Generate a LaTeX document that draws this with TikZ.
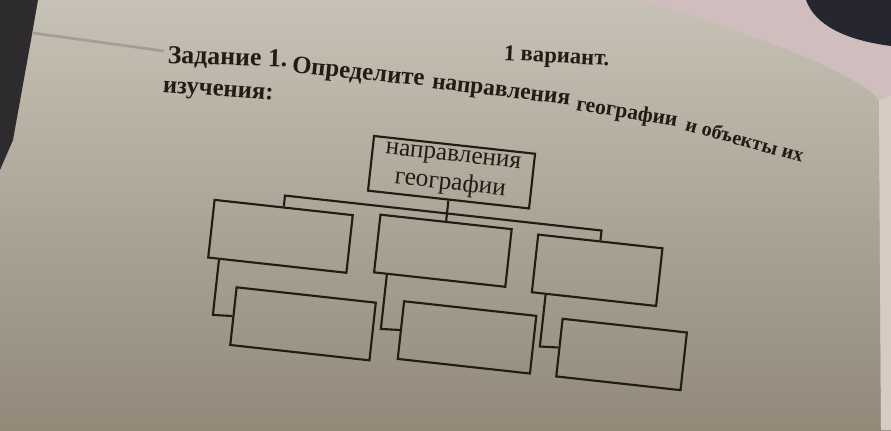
\documentclass[tikz,border=0pt]{standalone}
\usepackage{fontspec}
\setmainfont{Liberation Serif}

\definecolor{ink}{RGB}{34,27,22}
\definecolor{paperTop}{RGB}{198,194,181}
\definecolor{paperBot}{RGB}{146,137,121}
\definecolor{fabric}{RGB}{208,190,190}
\definecolor{fabricLight}{RGB}{214,204,196}
\definecolor{fabricDark}{RGB}{38,38,48}
\definecolor{deskDark}{RGB}{46,43,47}
\definecolor{crease}{RGB}{110,104,96}

\tikzset{every picture/.style={line width=0.75pt}}
\tikzset{
  emptybox/.style={draw=ink, line width=1.6pt, inner sep=0pt, minimum height=43.5pt, rotate=-6.3},
  headbox/.style={draw=ink, line width=1.6pt, inner sep=0pt, minimum width=121.5pt, minimum height=41.25pt,
    align=center, text=ink, font=\fontsize{19}{21.5}\selectfont, rotate=-6.3},
  tierline/.style={draw=ink, line width=1.6pt},
  printed/.style={anchor=base west, inner sep=0pt, text=ink, font=\bfseries\fontsize{#1}{20}\selectfont},
}

\begin{document}
\begin{tikzpicture}[x=0.75pt,y=0.75pt,yscale=-1,xscale=1]
\useasboundingbox (0,0) rectangle (891,430);

%Shape: Paper
\shade[top color=paperTop, bottom color=paperBot] (0,0) rectangle (891,430);
%Straight Lines [crease]
\draw[crease, opacity=0.35, line width=2pt] (33,33) -- (164,51);
%Shape: Desk at left
\fill[deskDark] (0,0) -- (38,0) -- (31,40) -- (13,140) -- (0,170) -- cycle;
%Shape: Fabric at right
\fill[fabric] (640,0) -- (891,0) -- (891,430) -- (881,430) -- (879,100) -- (873,93) .. controls (820,55) and (720,25) .. (640,0) -- cycle;
\fill[fabricLight] (879,100) -- (891,96) -- (891,430) -- (881,430) -- cycle;
\fill[fabricDark] (806,0) .. controls (815,25) and (845,40) .. (891,46) -- (891,0) -- cycle;

% Text Node
\node[printed=17, rotate=-3] (variant) at (503,60) {1 вариант.};
% Text Node
\node[printed=19.4, rotate=-2] (task) at (167,63) {Задание 1.};
\node[printed=18.6, rotate=-6] (define) at (291,72) {Определите};
\node[printed=17.6, rotate=-7] (branches) at (431,88) {направления};
\node[printed=16.2, rotate=-9.4] (geo) at (575,110) {географии};
\node[printed=15.2, rotate=-15.5] (objects) at (684,130) {и объекты их};
% Text Node
\node[printed=18.5, rotate=-4] (study) at (162,92) {изучения:};

\begin{scope}[rotate around={6.3:(450,250)}]
% Text Node
\node[headbox] (head) at (443,172.5) {направления\\географии};
%Shape: Rectangle
\node[emptybox, minimum width=104.25pt] (b1) at (280,255) {};
\node[emptybox, minimum width=99pt] (b2) at (443,251.5) {};
\node[emptybox, minimum width=93.75pt] (b3) at (598.5,254) {};
%Shape: Rectangle
\node[emptybox, minimum width=105pt] (c1) at (312,339.5) {};
\node[emptybox, minimum width=99.75pt] (c2) at (476.5,335) {};
\node[emptybox, minimum width=93.75pt] (c3) at (632,335) {};

\coordinate (barL) at (280,214);
\coordinate (barR) at (598.5,214);
%Straight Lines
\draw[tierline] (head.south) -- (b2.north);
\draw[tierline] (b1.north) -- (barL) -- (barR) -- (b3.north);
%Straight Lines
\draw[tierline] (b1.south west) ++(12,0) -- ++(0,55.5) -- (c1.west);
\draw[tierline] (b2.south west) ++(14,0) -- ++(0,54.5) -- (c2.west);
\draw[tierline] (b3.south west) ++(15,0) -- ++(0,52) -- (c3.west);
\end{scope}

\end{tikzpicture}
\end{document}
